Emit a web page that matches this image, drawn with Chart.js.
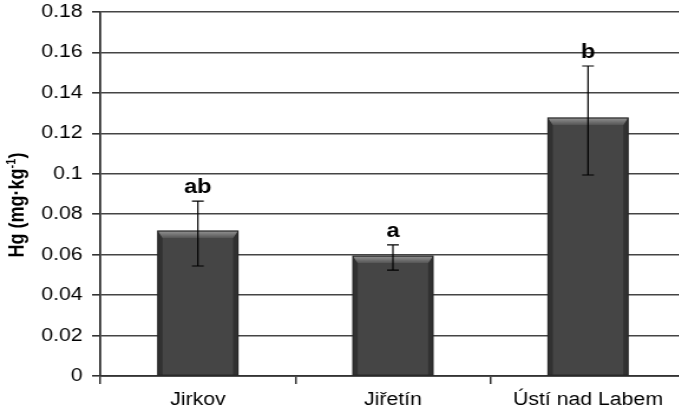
<!DOCTYPE html>
<html>
<head>
<meta charset="utf-8">
<script src="https://cdn.jsdelivr.net/npm/chart.js@4/dist/chart.umd.min.js"></script>
<style>
  html, body { margin: 0; padding: 0; background: #fff; overflow: hidden; width: 679px; height: 418px; }
  /* el gráfico original viene algo ensanchado en horizontal */
  #marco { position: absolute; left: 0; top: 0; width: 593px; height: 418px; transform: scaleX(1.18); transform-origin: 0 0; }
</style>
</head>
<body>
<div id="marco"><canvas id="graficoHg" width="593" height="418"></canvas></div>
<script>
const sitios = ["Jirkov", "Jiřetín", "Ústí nad Labem"];
const hgMedia = [0.0717, 0.0593, 0.1276];
const hgMax = [0.0865, 0.0648, 0.1533];
const hgMin = [0.0544, 0.0524, 0.0994];
const letras = ["ab", "a", "b"];
const ticksY = [0, 0.02, 0.04, 0.06, 0.08, 0.1, 0.12, 0.14, 0.16, 0.18];

const FUENTE = "'Liberation Sans', Arial, sans-serif";

// relieve de las barras (borde superior claro, laterales oscuros)
const relieve = {
  id: "relieve",
  afterDatasetsDraw(chart) {
    const ctx = chart.ctx;
    chart.getDatasetMeta(0).data.forEach(el => {
      const { x, y, width, base } = el.getProps(["x", "y", "width", "base"], true);
      const l = x - width / 2, r = x + width / 2;
      const bx = 4, by = 7;
      ctx.save();
      // laterales
      ctx.fillStyle = "rgba(20,20,20,0.4)";
      ctx.beginPath();
      ctx.moveTo(l, y); ctx.lineTo(l + bx, y + by); ctx.lineTo(l + bx, base); ctx.lineTo(l, base);
      ctx.closePath(); ctx.fill();
      ctx.beginPath();
      ctx.moveTo(r, y); ctx.lineTo(r - bx, y + by); ctx.lineTo(r - bx, base); ctx.lineTo(r, base);
      ctx.closePath(); ctx.fill();
      // borde superior
      const g = ctx.createLinearGradient(0, y, 0, y + by);
      g.addColorStop(0, "#939393");
      g.addColorStop(1, "#555");
      ctx.fillStyle = g;
      ctx.beginPath();
      ctx.moveTo(l, y); ctx.lineTo(r, y); ctx.lineTo(r - bx, y + by); ctx.lineTo(l + bx, y + by);
      ctx.closePath(); ctx.fill();
      ctx.strokeStyle = "#262626";
      ctx.lineWidth = 1.2;
      ctx.strokeRect(l, y, width, base - y);
      ctx.restore();
    });
  }
};

// barras de error y letras de significancia
const errores = {
  id: "errores",
  afterDatasetsDraw(chart) {
    const ctx = chart.ctx;
    const ys = chart.scales.y;
    chart.getDatasetMeta(0).data.forEach((el, i) => {
      const x = el.x;
      const yHi = ys.getPixelForValue(hgMax[i]);
      const yLo = ys.getPixelForValue(hgMin[i]);
      ctx.save();
      ctx.strokeStyle = "#000";
      ctx.lineWidth = 1.2;
      ctx.beginPath();
      ctx.moveTo(x, yHi); ctx.lineTo(x, yLo);
      ctx.moveTo(x - 5, yHi); ctx.lineTo(x + 5, yHi);
      ctx.moveTo(x - 5, yLo); ctx.lineTo(x + 5, yLo);
      ctx.stroke();
      ctx.fillStyle = "#000";
      ctx.font = "bold 20px " + FUENTE;
      ctx.textAlign = "center";
      ctx.textBaseline = "alphabetic";
      ctx.fillText(letras[i], x, yHi - 8);
      ctx.restore();
    });
  }
};

// título del eje y con superíndice
const tituloY = {
  id: "tituloY",
  afterDraw(chart) {
    const ctx = chart.ctx;
    const a = chart.chartArea;
    const partes = [
      { t: "Hg (mg·kg", f: "bold 18px " + FUENTE, dy: 0 },
      { t: "-1", f: "bold 11px " + FUENTE, dy: -7 },
      { t: ")", f: "bold 18px " + FUENTE, dy: 0 }
    ];
    let total = 0;
    partes.forEach(p => { ctx.font = p.f; p.w = ctx.measureText(p.t).width; total += p.w; });
    ctx.save();
    ctx.translate(20, (a.top + a.bottom) / 2 + 11);
    ctx.rotate(-Math.PI / 2);
    ctx.fillStyle = "#000";
    ctx.textBaseline = "alphabetic";
    let cx = -total / 2;
    partes.forEach(p => {
      ctx.font = p.f;
      ctx.fillText(p.t, cx, p.dy);
      cx += p.w;
    });
    ctx.restore();
  }
};

new Chart(document.getElementById("graficoHg"), {
  type: "bar",
  data: {
    labels: sitios,
    datasets: [{
      data: hgMedia,
      backgroundColor: "#454545",
      borderWidth: 0,
      categoryPercentage: 1,
      barPercentage: 0.41
    }]
  },
  options: {
    responsive: false,
    devicePixelRatio: 1,
    animation: false,
    layout: { padding: { top: 12, right: 12, left: 0, bottom: 0 } },
    plugins: { legend: { display: false }, tooltip: { enabled: false } },
    scales: {
      x: {
        offset: true,
        grid: { drawOnChartArea: false, offset: true, tickLength: 8, color: "#333", lineWidth: 1.5 },
        border: { display: true, color: "#333", width: 1.8 },
        ticks: { color: "#000", padding: 5, font: { family: FUENTE, size: 18 } },
        afterFit(s) { s.height = 42; s.paddingLeft = 0; s.paddingRight = 0; }
      },
      y: {
        min: 0,
        max: 0.18,
        afterBuildTicks(s) { s.ticks = ticksY.map(v => ({ value: v })); },
        grid: { color: "#444", lineWidth: 1.6, tickLength: 7, tickColor: "#333" },
        border: { display: true, color: "#333", width: 1.8 },
        ticks: {
          color: "#000",
          padding: 8,
          font: { family: FUENTE, size: 18 },
          callback: v => String(+v.toFixed(2))
        },
        afterFit(s) { s.width = 85; s.paddingTop = 0; s.paddingBottom = 0; }
      }
    }
  },
  plugins: [relieve, errores, tituloY]
});
</script>
</body>
</html>
